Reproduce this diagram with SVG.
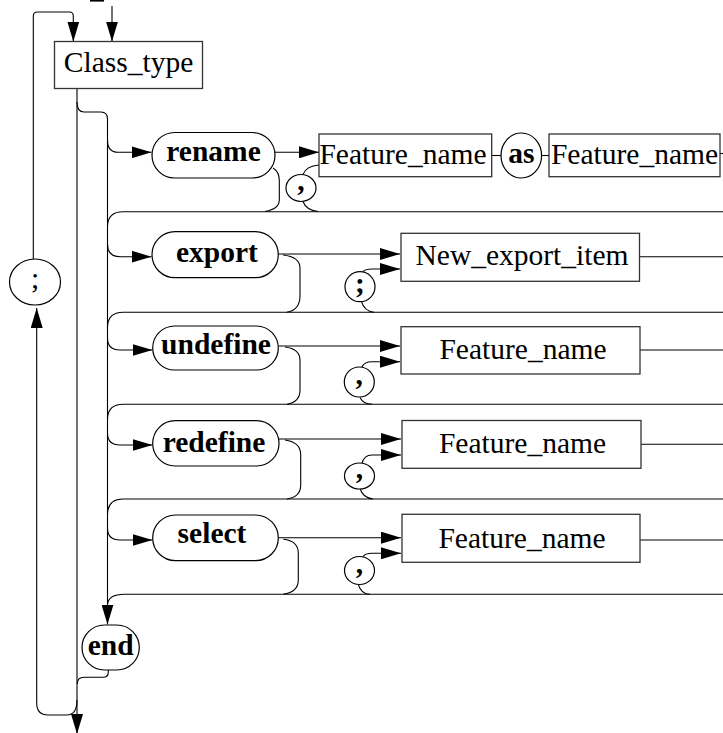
<svg xmlns="http://www.w3.org/2000/svg" width="723" height="733" viewBox="0 0 723 733">
<style>
.ln{fill:none;stroke:#000;stroke-width:1.1}
.box{fill:#fff;stroke:#333;stroke-width:1.3}
.term{fill:#fff;stroke:#000;stroke-width:1.2}
.t{font-family:"Liberation Serif","Times New Roman",serif;font-size:29.5px;fill:#000;text-anchor:middle}
.b{font-weight:bold}
</style>
<defs>
<marker id="ah" markerUnits="userSpaceOnUse" markerWidth="20" markerHeight="12" refX="20" refY="6" orient="auto">
<path d="M0,0 L20,6 L0,12 z" fill="#000"/>
</marker>
</defs>
<rect width="723" height="733" fill="#fff"/>
<g id="connectors">
<line x1="90" y1="0.8" x2="104" y2="0.8" stroke="#000" stroke-width="1.6"/>
<path class="ln" d="M33.3,259 L33.3,16 Q33.3,12 37.5,12 L69.5,12 Q73.3,12 73.3,16 L73.3,41.5" marker-end="url(#ah)"/>
<path class="ln" d="M112,6 L112,41.5" marker-end="url(#ah)"/>
<path class="ln" d="M77,89 L77,734" marker-end="url(#ah)"/>
<path class="ln" d="M77,102 Q77,112 84,112 L101,112 Q107.5,112 107.5,119 L107.5,624.5" marker-end="url(#ah)"/>
<path class="ln" d="M77,700 Q77,715 66.7,715 L48,715 Q36.7,715 36.7,703 L36.7,308" marker-end="url(#ah)"/>
<path class="ln" d="M108.3,670 L108.3,672 Q108.3,677.3 103,677.3 L84,677.3 Q77.3,677.3 77.3,684"/>
<!-- row 1 rename -->
<path class="ln" d="M107.5,140 Q107.5,152.3 118,152.3 L151.5,152.3" marker-end="url(#ah)"/>
<path class="ln" d="M275,152.3 L319,152.3" marker-end="url(#ah)"/>
<line class="ln" x1="491.7" y1="155.5" x2="501" y2="155.5"/>
<line class="ln" x1="541.7" y1="155.5" x2="549" y2="155.5"/>
<line class="ln" x1="720" y1="153.5" x2="723" y2="153.5"/>
<path class="ln" d="M273,168 Q279.3,172 279.3,180 L279.3,200 Q279.3,209 265,211.5"/>
<path class="ln" d="M303,174.5 Q306,166 319,165"/>
<path class="ln" d="M303,201.5 Q306,210 318,211.5"/>
<!-- row 2 export -->
<path class="ln" d="M723,211.7 L123,211.7 Q108,211.7 107.5,226"/>
<path class="ln" d="M107.5,244 Q107.5,256.7 120,256.7 L151.5,256.7" marker-end="url(#ah)"/>
<path class="ln" d="M278.3,254 L400,254" marker-end="url(#ah)"/>
<line class="ln" x1="639.5" y1="256.7" x2="723" y2="256.7"/>
<path class="ln" d="M283,255 Q300,257 300,268 L300,296 Q300,310 286.7,312.3"/>
<path class="ln" d="M363,271.7 Q365,269 372,269 L400,269" marker-end="url(#ah)"/>
<path class="ln" d="M361.5,301.7 Q364,311 374,312.3"/>
<!-- row 3 undefine -->
<path class="ln" d="M723,312.3 L123,312.3 Q108,312.3 107.5,327"/>
<path class="ln" d="M107.5,338 Q107.5,350 120,350 L152.5,350" marker-end="url(#ah)"/>
<path class="ln" d="M278.3,346 L400,346" marker-end="url(#ah)"/>
<line class="ln" x1="640" y1="350" x2="723" y2="350"/>
<path class="ln" d="M285,347 Q300,349 300,360 L300,390 Q300,402 287,404.3"/>
<path class="ln" d="M362,367 Q364,361.7 372,361.7 L400,361.7" marker-end="url(#ah)"/>
<path class="ln" d="M360,397.5 Q363,404 372,404.3"/>
<!-- row 4 redefine -->
<path class="ln" d="M723,404.3 L123,404.3 Q108,404.3 107.5,419"/>
<path class="ln" d="M107.5,433 Q107.5,445 120,445 L152.5,445" marker-end="url(#ah)"/>
<path class="ln" d="M279,439 L401,439" marker-end="url(#ah)"/>
<line class="ln" x1="641" y1="444.3" x2="723" y2="444.3"/>
<path class="ln" d="M285,440 Q300.7,442 300.7,455 L300.7,485 Q300.7,497 287,499"/>
<path class="ln" d="M362,463.5 Q364,455 372,455 L401,455" marker-end="url(#ah)"/>
<path class="ln" d="M360,488.5 Q363,498 373,499"/>
<!-- row 5 select -->
<path class="ln" d="M723,499 L123,499 Q108,499 107.5,514"/>
<path class="ln" d="M107.5,528 Q107.5,540 120,540 L152.5,540" marker-end="url(#ah)"/>
<path class="ln" d="M278.3,537.7 L401,537.7" marker-end="url(#ah)"/>
<line class="ln" x1="640" y1="540" x2="723" y2="540"/>
<path class="ln" d="M283.3,539.3 Q298.3,541 298.3,553 L298.3,580 Q298.3,592 283.3,594.3"/>
<path class="ln" d="M363,556.7 Q365,553.3 372,553.3 L401,553.3" marker-end="url(#ah)"/>
<path class="ln" d="M358.3,584.3 Q361,594 370,594.3"/>
<path class="ln" d="M723,594.3 L124.5,594.3 Q108,594.3 107.5,605"/>
</g>
<g id="class_type"><rect class="box" x="54.5" y="41.5" width="148" height="47"/><text class="t" x="128.5" y="71.5">Class_type</text></g>
<g id="semicolon_loop"><ellipse class="term" cx="35" cy="282" rx="25.5" ry="23"/><text class="t" x="35" y="288">;</text></g>
<g id="rename"><rect class="term" x="152" y="132.5" width="123" height="45.5" rx="22.75"/><text class="t b" x="213.5" y="161">rename</text></g>
<g id="rename_feature1"><rect class="box" x="319" y="134" width="172.7" height="42.7"/><text class="t" x="403" y="163.5">Feature_name</text></g>
<g id="as"><ellipse class="term" cx="521.3" cy="155.5" rx="20.3" ry="22.5"/><text class="t b" x="521.3" y="163">as</text></g>
<g id="rename_feature2"><rect class="box" x="549" y="134" width="171" height="42.7"/><text class="t" x="634.5" y="163.5">Feature_name</text></g>
<g id="rename_comma"><ellipse class="term" cx="301" cy="188" rx="15" ry="13.5"/><text class="t b" x="301" y="189.5">,</text></g>
<g id="export"><rect class="term" x="152" y="231.7" width="126.3" height="46" rx="23"/><text class="t b" x="217" y="261.5">export</text></g>
<g id="new_export_item"><rect class="box" x="401" y="233.3" width="238.5" height="48"/><text class="t" x="522" y="265">New_export_item</text></g>
<g id="export_semicolon"><ellipse class="term" cx="360" cy="286.7" rx="15" ry="15"/><text class="t b" x="360" y="292.5">;</text></g>
<g id="undefine"><rect class="term" x="152.7" y="326" width="125.6" height="44" rx="22"/><text class="t b" x="216" y="353.5">undefine</text></g>
<g id="undefine_feature"><rect class="box" x="401" y="326.7" width="239" height="47.3"/><text class="t" x="523" y="358.5">Feature_name</text></g>
<g id="undefine_comma"><ellipse class="term" cx="359.3" cy="382" rx="15" ry="15"/><text class="t b" x="359.3" y="384">,</text></g>
<g id="redefine"><rect class="term" x="152.7" y="420.7" width="126.3" height="45.3" rx="22.6"/><text class="t b" x="214" y="451.5">redefine</text></g>
<g id="redefine_feature"><rect class="box" x="402" y="420.5" width="239" height="47.8"/><text class="t" x="522.5" y="453">Feature_name</text></g>
<g id="redefine_comma"><ellipse class="term" cx="359.5" cy="476" rx="15" ry="13"/><text class="t b" x="359.5" y="478">,</text></g>
<g id="select"><rect class="term" x="152.7" y="515" width="125.6" height="45.7" rx="22.8"/><text class="t b" x="212" y="543">select</text></g>
<g id="select_feature"><rect class="box" x="402" y="514.3" width="238" height="48"/><text class="t" x="522" y="548">Feature_name</text></g>
<g id="select_comma"><ellipse class="term" cx="359.5" cy="570.5" rx="15" ry="14"/><text class="t b" x="359.5" y="572.5">,</text></g>
<g id="end"><rect class="term" x="82" y="625" width="57.3" height="45" rx="22.5"/><text class="t b" x="110.7" y="655">end</text></g>
</svg>
